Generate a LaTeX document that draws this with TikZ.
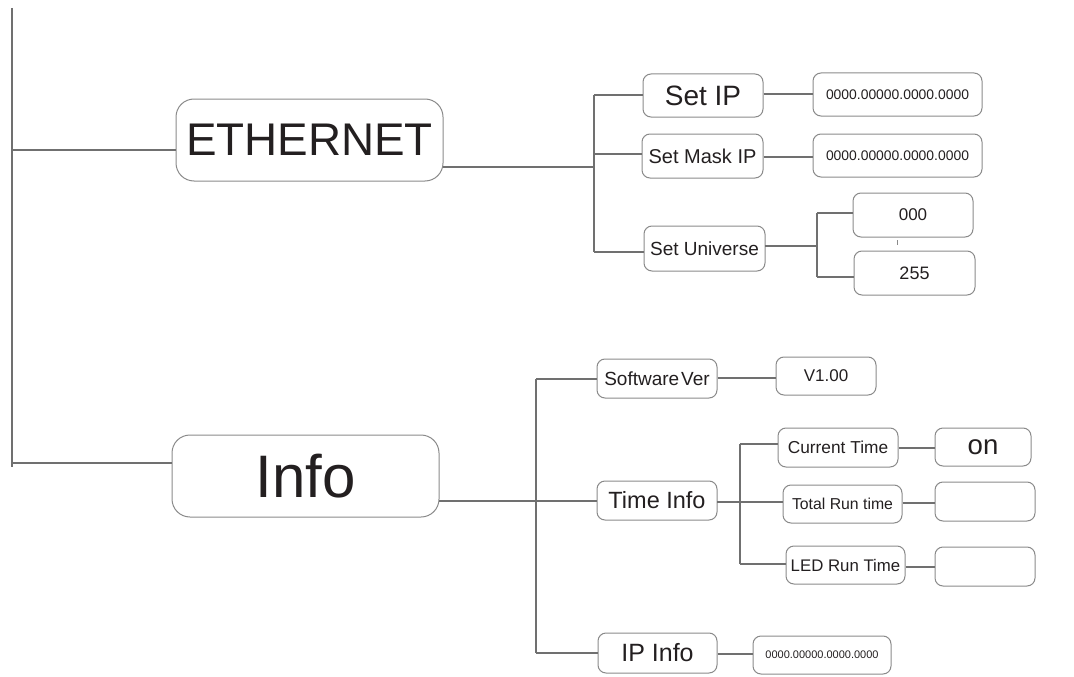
\documentclass[tikz,border=0pt]{standalone}
\usepackage{fontspec}
\setmainfont{Liberation Sans}
\definecolor{boxgray}{HTML}{8A8A8A}
\definecolor{linegray}{HTML}{707070}
\definecolor{txt}{HTML}{231F20}
\newcommand{\fs}[1]{\fontsize{#1}{#1}\selectfont}
\begin{document}
\begin{tikzpicture}[x=1pt,y=-1pt,
  box/.style={draw=boxgray, line width=1pt, rounded corners=8pt, inner sep=0pt, text=txt, align=center},
  bigbox/.style={box, rounded corners=18pt},
  conn/.style={draw=linegray, line width=1.1pt}]
\useasboundingbox (0,0) rectangle (1074,677);

% main nodes
\node[bigbox, minimum width=267pt, minimum height=82pt] (eth) at (309.5,140) {\fs{45.8}ETHERNET};
\node[bigbox, minimum width=267pt, minimum height=82pt] (info) at (305.5,476) {\fs{60}Info};

% ethernet children
\node[box, minimum width=120pt, minimum height=43pt] (setip) at (703,95.5) {\fs{28}Set IP};
\node[box, minimum width=169pt, minimum height=43pt] (ip1) at (897.5,94.5) {\fs{13.9}0000.00000.0000.0000};
\node[box, minimum width=121pt, minimum height=44pt] (mask) at (702.5,156) {\fs{20}Set Mask IP};
\node[box, minimum width=169pt, minimum height=43pt] (ip2) at (897.5,155.5) {\fs{13.9}0000.00000.0000.0000};
\node[box, minimum width=121pt, minimum height=45pt] (uni) at (704.5,248.5) {\fs{19}Set Universe};
\node[box, minimum width=120pt, minimum height=44pt] (u0) at (913,215) {\fs{17}000};
\node[box, minimum width=121pt, minimum height=44pt] (u255) at (914.5,273) {\fs{18}255};

% info children
\node[box, minimum width=120pt, minimum height=39pt] (sw) at (657,378.5) {\fs{19}Software\hspace{0.1em}Ver};
\node[box, minimum width=100pt, minimum height=38pt] (v1) at (826,376) {\fs{17}V1.00};
\node[box, minimum width=120pt, minimum height=39pt] (ti) at (657,500.5) {\fs{23.5}Time Info};
\node[box, minimum width=120pt, minimum height=39pt] (ct) at (838,447.5) {\fs{17.3}Current Time};
\node[box, minimum width=96pt, minimum height=38pt] (on) at (983,447) {\fs{27.6}on};
\node[box, minimum width=119pt, minimum height=38pt] (tr) at (842.5,504) {\raisebox{-2pt}{\fs{15.8}Total Run time}};
\node[box, minimum width=100pt, minimum height=39pt] (e1) at (985,501.5) {};
\node[box, minimum width=119pt, minimum height=38pt] (led) at (845.5,565) {\fs{16.8}LED Run Time};
\node[box, minimum width=100pt, minimum height=39pt] (e2) at (985,566.5) {};
\node[box, minimum width=119pt, minimum height=40pt] (ipi) at (657.5,653) {\fs{25}IP Info};
\node[box, minimum width=138pt, minimum height=38pt] (ipb) at (822,655) {\fs{11}0000.00000.0000.0000};

% bus coordinates
\coordinate (lt) at (12,8);
\coordinate (lb) at (12,467);
\coordinate (l1) at (12,150);
\coordinate (l2) at (12,463);
\coordinate (ethout) at (443,167);
\coordinate (eb) at (594,167);
\coordinate (ebt) at (594,95);
\coordinate (ebm) at (594,154);
\coordinate (ebb) at (594,252);
\coordinate (uout) at (765,246);
\coordinate (ub) at (817,246);
\coordinate (ubt) at (817,213);
\coordinate (ubb) at (817,277);
\coordinate (tk1) at (897,240);
\coordinate (tk2) at (897,245);
\coordinate (infoout) at (439,501);
\coordinate (ib) at (536,501);
\coordinate (ibt) at (536,379);
\coordinate (ibb) at (536,653);
\coordinate (tout) at (717,502);
\coordinate (tb) at (740,502);
\coordinate (tbt) at (740,444);
\coordinate (tbb) at (740,564);

% left bus
\draw[conn] (lt) -- (lb);
\draw[conn] (l1) -- (l1 -| eth.west);
\draw[conn] (l2) -- (l2 -| info.west);

% ethernet
\draw[conn] (ethout) -- (eb);
\draw[conn] (ebt) -- (ebb);
\draw[conn] (ebt) -- (ebt -| setip.west);
\draw[conn] (ebm) -- (ebm -| mask.west);
\draw[conn] (ebb) -- (ebb -| uni.west);
\draw[conn] (setip.east |- 0,94) -- (ip1.west |- 0,94);
\draw[conn] (mask.east |- 0,157) -- (ip2.west |- 0,157);
\draw[conn] (uout) -- (ub);
\draw[conn] (ubt) -- (ubb);
\draw[conn] (ubt) -- (ubt -| u0.west);
\draw[conn] (ubb) -- (ubb -| u255.west);
\draw[draw=boxgray, line width=0.6pt] (tk1) -- (tk2);

% info
\draw[conn] (infoout) -- (ib);
\draw[conn] (ibt) -- (ibb);
\draw[conn] (ibt) -- (ibt -| sw.west);
\draw[conn] (ib) -- (ib -| ti.west);
\draw[conn] (ibb) -- (ibb -| ipi.west);
\draw[conn] (sw.east |- 0,378) -- (v1.west |- 0,378);
\draw[conn] (tout) -- (tout -| tr.west);
\draw[conn] (tbt) -- (tbb);
\draw[conn] (tbt) -- (tbt -| ct.west);
\draw[conn] (tbb) -- (tbb -| led.west);
\draw[conn] (ct.east |- 0,448) -- (on.west |- 0,448);
\draw[conn] (tr.east |- 0,503) -- (e1.west |- 0,503);
\draw[conn] (led.east |- 0,567) -- (e2.west |- 0,567);
\draw[conn] (ipi.east |- 0,654) -- (ipb.west |- 0,654);
\end{tikzpicture}
\end{document}
